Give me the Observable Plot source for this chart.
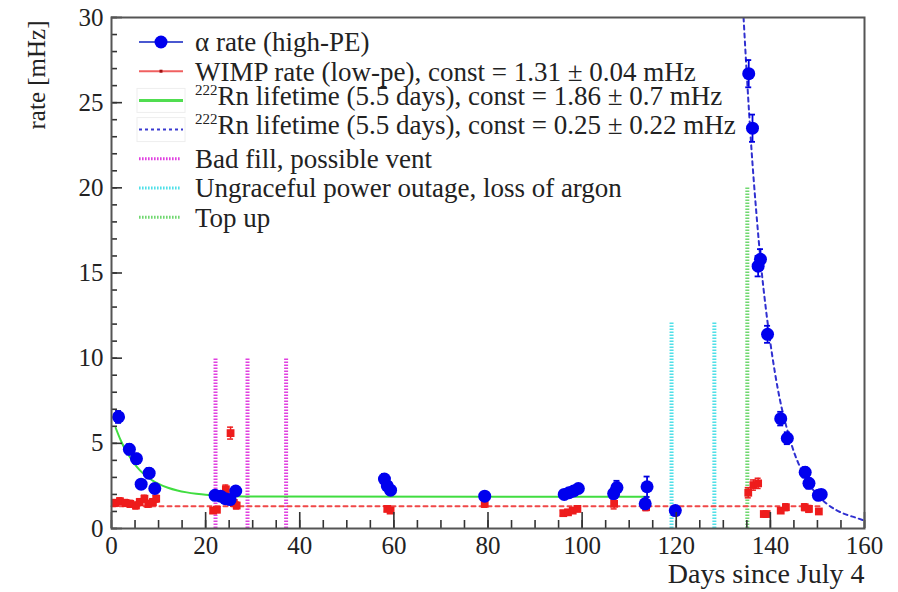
<!DOCTYPE html>
<html>
<head>
<meta charset="utf-8">
<script src="https://cdn.jsdelivr.net/npm/d3@7"></script>
<script src="https://cdn.jsdelivr.net/npm/@observablehq/plot@0.6"></script>
<style>
  html, body { margin: 0; padding: 0; background: #fff; }
  #chart { position: relative; width: 898px; height: 592px; }
</style>
</head>
<body>
<div id="chart"></div>
<script>
// ---- data ----
// alpha rate (high-PE): day, rate [mHz], error
const alphaDay  = [1.5, 3.8, 5.3, 6.3, 8.0, 9.2, 22.0, 23.2, 24.2, 25.2, 26.4, 58.0, 58.6, 59.3, 79.3, 96.2, 97.2, 98.2, 99.2, 106.7, 107.4, 113.4, 113.8, 119.8, 135.4, 136.2, 137.4, 137.9, 139.4, 142.2, 143.6, 147.4, 148.2, 150.2, 150.8];
const alphaRate = [6.55, 4.65, 4.1, 2.6, 3.25, 2.35, 1.95, 1.9, 1.75, 1.7, 2.2, 2.9, 2.5, 2.25, 1.9, 2.0, 2.1, 2.2, 2.35, 2.05, 2.4, 1.45, 2.45, 1.05, 26.7, 23.5, 15.4, 15.8, 11.4, 6.45, 5.3, 3.3, 2.65, 1.95, 2.0];
const alphaErr  = [0.35, 0.3, 0.3, 0.25, 0.3, 0.25, 0.2, 0.2, 0.2, 0.2, 0.2, 0.3, 0.25, 0.25, 0.2, 0.2, 0.2, 0.2, 0.2, 0.3, 0.4, 0.25, 0.6, 0.2, 0.8, 0.8, 0.6, 0.6, 0.5, 0.4, 0.35, 0.3, 0.3, 0.25, 0.25];

// WIMP rate (low-pe)
const wimpDay  = [0.8, 1.8, 3.0, 4.0, 5.2, 6.0, 7.0, 7.8, 8.8, 9.5, 21.6, 22.4, 24.3, 25.3, 26.0, 26.6, 58.6, 59.3, 79.3, 96.0, 97.0, 98.0, 99.0, 106.8, 113.6, 119.8, 135.3, 136.4, 137.4, 138.6, 139.2, 142.2, 143.3, 147.3, 148.2, 150.3];
const wimpRate = [1.5, 1.6, 1.5, 1.45, 1.35, 1.55, 1.75, 1.45, 1.55, 1.75, 1.05, 1.1, 2.3, 5.6, 1.5, 1.35, 1.15, 1.05, 1.45, 0.9, 0.95, 1.05, 1.15, 1.45, 1.25, 0.95, 2.1, 2.55, 2.65, 0.85, 0.85, 1.05, 1.25, 1.25, 1.15, 1.0];
const wimpErr  = [0.2, 0.2, 0.2, 0.2, 0.2, 0.2, 0.2, 0.2, 0.2, 0.2, 0.15, 0.15, 0.25, 0.35, 0.2, 0.2, 0.15, 0.15, 0.2, 0.15, 0.15, 0.15, 0.15, 0.3, 0.2, 0.15, 0.3, 0.3, 0.3, 0.15, 0.15, 0.15, 0.2, 0.2, 0.2, 0.15];

// WIMP constant fit line
const wimpConstDay  = [0, 151];
const wimpConstRate = [1.31, 1.31];

// 222Rn fit, const = 1.86 (green)
const rnFit1Day  = [0.9, 2, 3, 4, 5, 6, 7, 8, 9, 10, 12, 14, 16, 18, 20, 22, 26, 30, 114];
const rnFit1Rate = [5.9, 5.15, 4.6, 4.15, 3.75, 3.43, 3.17, 2.95, 2.77, 2.62, 2.39, 2.23, 2.12, 2.04, 1.98, 1.95, 1.9, 1.88, 1.86];

// 222Rn fit, const = 0.25 (blue dashed)
const rnFit2Day  = [134.3, 135, 136, 137, 138, 139, 140, 141, 142, 143, 144, 145, 146, 148, 150, 152, 154, 156, 158, 159.6];
const rnFit2Rate = [30, 26.6, 22.2, 18.6, 15.5, 13.0, 10.9, 9.1, 7.6, 6.4, 5.4, 4.5, 3.8, 2.7, 1.97, 1.45, 1.08, 0.83, 0.65, 0.5];

// event markers (vertical dotted lines)
const badFillDays = [22.1, 28.9, 37.1];   const badFillTop = 10;
const outageDays  = [119.0, 128.1];       const outageTop  = 12.1;
const topUpDays   = [135.1];              const topUpTop   = 20;

// axes
const xTicks = [0, 20, 40, 60, 80, 100, 120, 140, 160];
const yTicks = [0, 5, 10, 15, 20, 25, 30];
const xMinor = d3.range(0, 161, 5);
const yMinor = d3.range(0, 31, 1);

// legend
const legendLabels = [
  {sup: "", text: "α rate (high-PE)"},
  {sup: "", text: "WIMP rate (low-pe), const = 1.31 ± 0.04 mHz"},
  {sup: "222", text: "Rn lifetime (5.5 days), const = 1.86 ± 0.7 mHz"},
  {sup: "222", text: "Rn lifetime (5.5 days), const = 0.25 ± 0.22 mHz"},
  {sup: "", text: "Bad fill, possible vent"},
  {sup: "", text: "Ungraceful power outage, loss of argon"},
  {sup: "", text: "Top up"}
];

// ---- build tables ----
const alpha = alphaDay.map((d, i) => ({x: d, y: alphaRate[i], e: alphaErr[i]}));
const wimp = wimpDay.map((d, i) => ({x: d, y: wimpRate[i], e: wimpErr[i]}));
const wimpConst = wimpConstDay.map((d, i) => ({x: d, y: wimpConstRate[i]}));
const fit1 = rnFit1Day.map((d, i) => ({x: d, y: rnFit1Rate[i]}));
const fit2 = rnFit2Day.map((d, i) => ({x: d, y: rnFit2Rate[i]}));
const events = [
  ...badFillDays.map(x => ({x, top: badFillTop, c: "#e040e0"})),
  ...outageDays.map(x => ({x, top: outageTop, c: "#50e0e8"})),
  ...topUpDays.map(x => ({x, top: topUpTop, c: "#70d870"}))
];

const W = 898, H = 592;
const mL = 111, mR = 34, mT = 17, mB = 64;
const pxPerDay = (W - mL - mR) / 160;
const pxPerRate = (H - mT - mB) / 30;
const cap = 3 / pxPerDay;

const FONT = "'Liberation Serif', 'Times New Roman', serif";

const plot = Plot.plot({
  width: W, height: H,
  marginLeft: mL, marginRight: mR, marginTop: mT, marginBottom: mB,
  style: {fontFamily: FONT, fontSize: "25px", color: "#222", background: "#fff"},
  x: {domain: [0, 160]},
  y: {domain: [0, 30]},
  marks: [
    // event lines
    Plot.ruleX(events, {x: "x", y1: 0, y2: "top", stroke: "c", strokeWidth: 4, strokeDasharray: "1.6,1.4"}),
    // fits
    Plot.line(wimpConst, {x: "x", y: "y", stroke: "#f04848", strokeWidth: 2, strokeDasharray: "4,4"}),
    Plot.line(fit1, {x: "x", y: "y", stroke: "#40dd40", strokeWidth: 2, curve: "monotone-x"}),
    Plot.line(fit2, {x: "x", y: "y", stroke: "#3030d0", strokeWidth: 2, strokeDasharray: "4,4", curve: "monotone-x", clip: true}),
    // WIMP error bars + markers
    Plot.ruleX(wimp, {x: "x", y1: d => d.y - d.e, y2: d => d.y + d.e, stroke: "#ee2020", strokeWidth: 1.5}),
    Plot.ruleY(wimp, {y: d => d.y + d.e, x1: d => d.x - cap, x2: d => d.x + cap, stroke: "#ee2020", strokeWidth: 1.5}),
    Plot.ruleY(wimp, {y: d => d.y - d.e, x1: d => d.x - cap, x2: d => d.x + cap, stroke: "#ee2020", strokeWidth: 1.5}),
    Plot.dot(wimp, {x: "x", y: "y", symbol: "square", r: 4.4, fill: "#ee1c1c", stroke: "none"}),
    // alpha error bars + markers
    Plot.ruleX(alpha, {x: "x", y1: d => d.y - d.e, y2: d => d.y + d.e, stroke: "#0000e0", strokeWidth: 1.8}),
    Plot.ruleY(alpha, {y: d => d.y + d.e, x1: d => d.x - cap, x2: d => d.x + cap, stroke: "#0000e0", strokeWidth: 1.8}),
    Plot.ruleY(alpha, {y: d => d.y - d.e, x1: d => d.x - cap, x2: d => d.x + cap, stroke: "#0000e0", strokeWidth: 1.8}),
    Plot.dot(alpha, {x: "x", y: "y", r: 6.5, fill: "#0000ee", stroke: "none"}),
    // inward ticks
    Plot.ruleX(xTicks, {x: d => d, y1: 0, y2: 16 / pxPerRate, stroke: "#333", strokeWidth: 1.6}),
    Plot.ruleX(xMinor, {x: d => d, y1: 0, y2: 8 / pxPerRate, stroke: "#333", strokeWidth: 1.6}),
    Plot.ruleY(yTicks, {y: d => d, x1: 0, x2: 11 / pxPerDay, stroke: "#333", strokeWidth: 1.6}),
    Plot.ruleY(yMinor, {y: d => d, x1: 0, x2: 6 / pxPerDay, stroke: "#333", strokeWidth: 1.6}),
    // axes
    Plot.axisX({ticks: xTicks, tickSize: 0, tickPadding: 8, fontSize: 25, label: null}),
    Plot.axisY({ticks: yTicks, tickSize: 0, tickPadding: 8, fontSize: 25, label: null}),
    Plot.frame({stroke: "#555", strokeWidth: 2}),
    // axis titles
    Plot.text(["rate [mHz]"], {frameAnchor: "top-left", rotate: -90, textAnchor: "end", lineAnchor: "middle", dx: -75, dy: 3, fontSize: 25, fill: "#222"}),
    Plot.text(["Days since July 4"], {frameAnchor: "bottom-right", textAnchor: "end", lineAnchor: "middle", dy: 46, dx: 0, fontSize: 28, fill: "#222"})
  ]
});

document.getElementById("chart").appendChild(plot);

// ---- legend (drawn inside the frame, top-left) ----
const svg = d3.select(plot);
const LFS = 27;
const lg = svg.append("g").attr("font-family", FONT).attr("font-size", LFS).attr("fill", "#222").attr("text-anchor", "start");
const rowY0 = 42, rowStep = 29.2, symX0 = 139, symX1 = 183, textX = 195;
legendLabels.forEach((row, i) => {
  const y = rowY0 + i * rowStep;
  const g = lg.append("g");
  if (i === 0) {
    g.append("line").attr("x1", symX0).attr("x2", symX1).attr("y1", y).attr("y2", y).attr("stroke", "#4a58d0").attr("stroke-width", 2);
    g.append("circle").attr("cx", (symX0 + symX1) / 2).attr("cy", y).attr("r", 6.5).attr("fill", "#0000ee");
  } else if (i === 1) {
    g.append("line").attr("x1", symX0).attr("x2", symX1).attr("y1", y).attr("y2", y).attr("stroke", "#f06060").attr("stroke-width", 2);
    g.append("rect").attr("x", (symX0 + symX1) / 2 - 1.5).attr("y", y - 1.5).attr("width", 3).attr("height", 3).attr("fill", "#a01010");
  } else if (i === 2) {
    g.append("rect").attr("x", symX0 - 2).attr("y", y - 12).attr("width", symX1 - symX0 + 4).attr("height", 24).attr("fill", "none").attr("stroke", "#eeeeee");
    g.append("line").attr("x1", symX0).attr("x2", symX1).attr("y1", y).attr("y2", y).attr("stroke", "#50dd50").attr("stroke-width", 3);
  } else if (i === 3) {
    g.append("rect").attr("x", symX0 - 2).attr("y", y - 12).attr("width", symX1 - symX0 + 4).attr("height", 24).attr("fill", "none").attr("stroke", "#eeeeee");
    g.append("line").attr("x1", symX0).attr("x2", symX1).attr("y1", y).attr("y2", y).attr("stroke", "#3a3ad0").attr("stroke-width", 2).attr("stroke-dasharray", "3,3");
  } else {
    const c = ["#e040e0", "#50e0e8", "#70d870"][i - 4];
    g.append("line").attr("x1", symX0).attr("x2", symX1 - 2).attr("y1", y).attr("y2", y).attr("stroke", c).attr("stroke-width", 3).attr("stroke-dasharray", "1.6,1.4");
  }
  const t = g.append("text").attr("x", textX).attr("y", y).attr("dy", "0.35em").attr("text-anchor", "start");
  if (row.sup) {
    t.append("tspan").attr("font-size", 15).attr("dy", "-0.35em").text(row.sup);
    t.append("tspan").attr("dy", "0.35em").attr("font-size", LFS).text(row.text);
  } else {
    t.text(row.text);
  }
});
</script>
</body>
</html>
